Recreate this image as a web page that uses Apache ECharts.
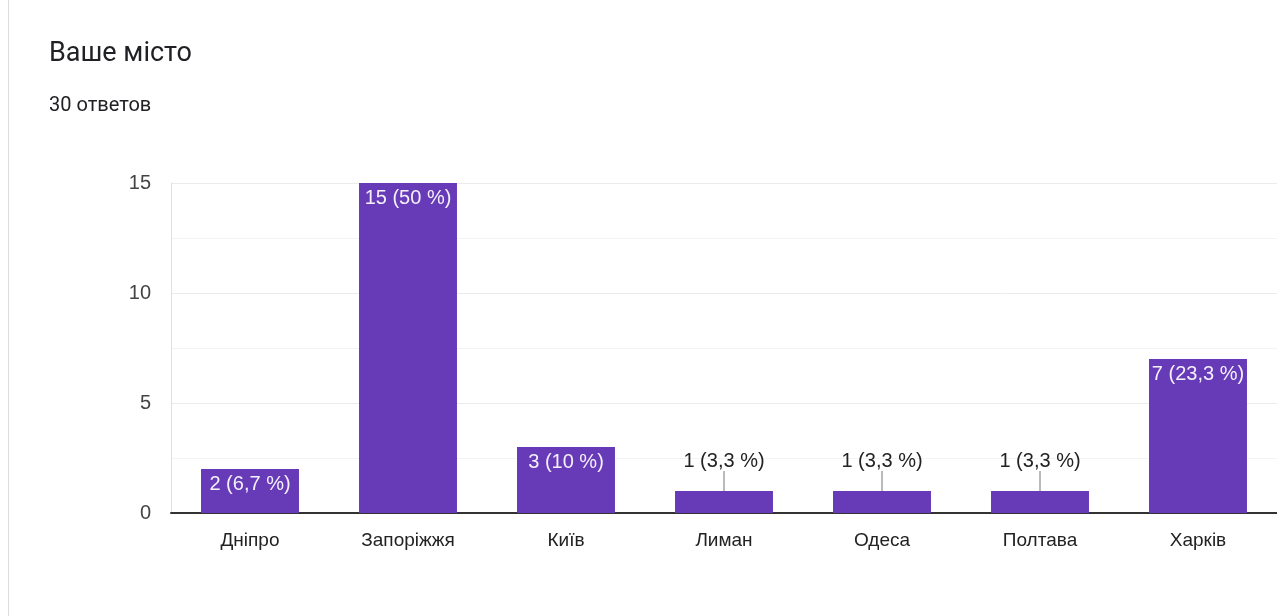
<!DOCTYPE html>
<html>
<head>
<meta charset="utf-8">
<script src="https://cdn.jsdelivr.net/npm/echarts@6/dist/echarts.min.js"></script>
<style>
  html, body { margin: 0; padding: 0; background: #fff; }
  .card { position: absolute; left: 8px; top: 0; width: 1269px; height: 616px; border-left: 1px solid #dadce0; }
  .title { position: absolute; left: 40px; top: 36px; font: 400 27px Roboto, sans-serif; color: #202124; }
  .sub { position: absolute; left: 40px; top: 92px; font: 400 20px Roboto, sans-serif; color: #202124; }
  #chart { position: absolute; left: 0; top: 0; width: 1277px; height: 616px; }
</style>
</head>
<body>
<div id="chart"></div>
<div class="card">
  <div class="title">Ваше місто</div>
  <div class="sub">30 ответов</div>
</div>
<script>
let cities = ['Дніпро', 'Запоріжжя', 'Київ', 'Лиман', 'Одеса', 'Полтава', 'Харків']
let counts = [2, 15, 3, 1, 1, 1, 7]
let total = 30

function pct(v) {
  let s = (v / total * 100).toFixed(1).replace('.', ',')
  if (s.endsWith(',0')) s = s.slice(0, -2)
  return v + ' (' + s + ' %)'
}

let chart = echarts.init(document.getElementById('chart'))

let option = {
  animation: false,
  grid: { left: 171, right: 0, top: 183, bottom: 103 },
  xAxis: {
    type: 'category',
    data: cities,
    axisTick: { show: false },
    axisLine: { lineStyle: { color: '#333', width: 2 } },
    axisLabel: { color: '#222', fontSize: 19, fontFamily: 'Liberation Sans', margin: 18 }
  },
  yAxis: {
    type: 'value',
    min: 0,
    max: 15,
    interval: 5,
    axisLine: { show: true, lineStyle: { color: '#e0e0e0' } },
    axisLabel: { color: '#444', fontSize: 20, fontFamily: 'Liberation Sans', margin: 20 },
    splitLine: { lineStyle: { color: '#ebebeb' } },
    minorTick: { show: false, splitNumber: 2 },
    minorSplitLine: { show: true, lineStyle: { color: '#f3f3f3' } }
  },
  series: [{
    type: 'bar',
    barWidth: '62%',
    itemStyle: { color: '#673ab7' },
    data: counts.map(v => {
      if (v >= 2) {
        return { value: v, label: { position: 'insideTop', color: '#f4f0fa', distance: 5 } }
      }
      return { value: v, label: { position: 'top', color: '#222', distance: 0 } }
    }),
    label: {
      show: true,
      fontSize: 20,
      fontFamily: 'Liberation Sans',
      formatter: p => pct(p.value)
    },
    labelLayout: p => counts[p.dataIndex] < 2 ? { dy: -20 } : {},
    labelLine: { show: true, lineStyle: { color: '#777', width: 1 } }
  }]
}

chart.setOption(option)
</script>
</body>
</html>
